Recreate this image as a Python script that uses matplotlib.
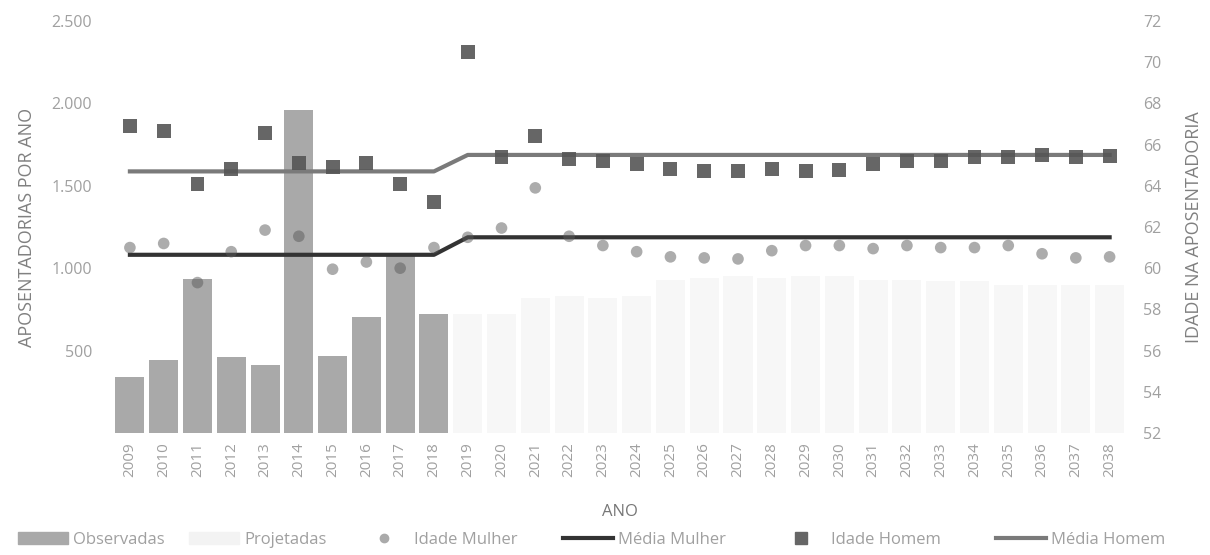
import numpy as np
import matplotlib.pyplot as plt
from matplotlib.lines import Line2D
from matplotlib.patches import Patch

anos = list(range(2009, 2039))
observadas = [340, 445, 935, 458, 410, 1960, 464, 705, 1090, 723]
projetadas = [720, 720, 820, 830, 820, 830, 930, 940, 950, 940,
              950, 950, 930, 930, 920, 920, 900, 900, 900, 900]
idade_mulher = [61.0, 61.2, 59.3, 60.8, 61.85, 61.55, 59.95, 60.3, 60.0, 61.0,
                61.5, 61.95, 63.9, 61.55, 61.1, 60.8, 60.55, 60.5, 60.45, 60.85,
                61.1, 61.1, 60.95, 61.1, 61.0, 61.0, 61.1, 60.7, 60.5, 60.55]
media_mulher = [60.65] * 10 + [61.5] * 20
idade_homem = [66.9, 66.65, 64.1, 64.8, 66.55, 65.1, 64.9, 65.1, 64.1, 63.2,
               70.5, 65.4, 66.4, 65.3, 65.2, 65.05, 64.8, 64.7, 64.7, 64.8,
               64.7, 64.75, 65.05, 65.2, 65.2, 65.4, 65.4, 65.5, 65.4, 65.45]
media_homem = [64.7] * 10 + [65.5] * 20

plt.rcParams['font.family'] = ['Open Sans', 'DejaVu Sans']
txt = '#a0a0a0'

fig = plt.figure(figsize=(12.1, 5.55), dpi=100)
ax = fig.add_axes([0.0934, 0.22, 0.8376, 0.742])
x = np.arange(len(anos))

ax.bar(x[:10], observadas, width=0.86, color='#a9a9a9', zorder=2)
ax.bar(x[10:], projetadas, width=0.86, color='#f7f7f7', zorder=1)
ax.set_ylim(0, 2500)
ax.set_yticks([500, 1000, 1500, 2000, 2500])
ax.set_yticklabels(['500', '1.000', '1.500', '2.000', '2.500'])
ax.set_xlim(-0.5, len(anos) - 0.5)
ax.set_xticks(x)
ax.set_xticklabels([str(a) for a in anos], rotation=90)
ax.tick_params(axis='y', length=0, labelsize=11.5, colors=txt, pad=15)
ax.tick_params(axis='x', length=0, labelsize=11, colors=txt, pad=7)
ax.set_xlabel('ANO', color='#777777', fontsize=12, labelpad=19)
ax.set_ylabel('APOSENTADORIAS POR ANO', color='#808080', fontsize=13, labelpad=11)
for s in ax.spines.values():
    s.set_visible(False)

ax2 = ax.twinx()
ax2.plot(x, media_homem, color='#7a7a7a', lw=3, zorder=3)
ax2.plot(x, media_mulher, color='#333333', lw=3, zorder=3)
ax2.scatter(x, idade_mulher, marker='o', s=70, color='#5a5a5a', alpha=0.5,
            edgecolors='none', zorder=4)
ax2.scatter(x, idade_homem, marker='s', s=100, color='#555555', alpha=0.9,
            edgecolors='none', zorder=4)
ax2.set_ylim(52, 72)
ax2.set_yticks(range(52, 73, 2))
ax2.tick_params(length=0, labelsize=11.5, colors=txt, pad=12)
ax2.set_ylabel('IDADE NA APOSENTADORIA', color='#808080', fontsize=13,
               rotation=90, labelpad=17)
for s in ax2.spines.values():
    s.set_visible(False)

handles = [
    Patch(color='#a9a9a9'),
    Patch(color='#f3f3f3'),
    Line2D([], [], marker='o', ls='none', color='#aaaaaa', markersize=6),
    Line2D([], [], color='#333333', lw=3),
    Line2D([], [], marker='s', ls='none', color='#666666', markersize=8),
    Line2D([], [], color='#7a7a7a', lw=3),
]
labels = ['Observadas', 'Projetadas', 'Idade Mulher', 'Média Mulher',
          'Idade Homem', 'Média Homem']
# each legend entry placed where it sits in the original
lefts = [18, 189, 359, 563, 776, 996]
for h, lab, px in zip(handles, labels, lefts):
    leg = fig.legend([h], [lab], loc='center left',
                     bbox_to_anchor=(px / 1210, 1 - 540 / 555),
                     frameon=False, fontsize=12, handlelength=3.0,
                     handletextpad=0.3, borderpad=0, borderaxespad=0)
    for t in leg.get_texts():
        t.set_color(txt)

fig.savefig('out.png', dpi=100)
